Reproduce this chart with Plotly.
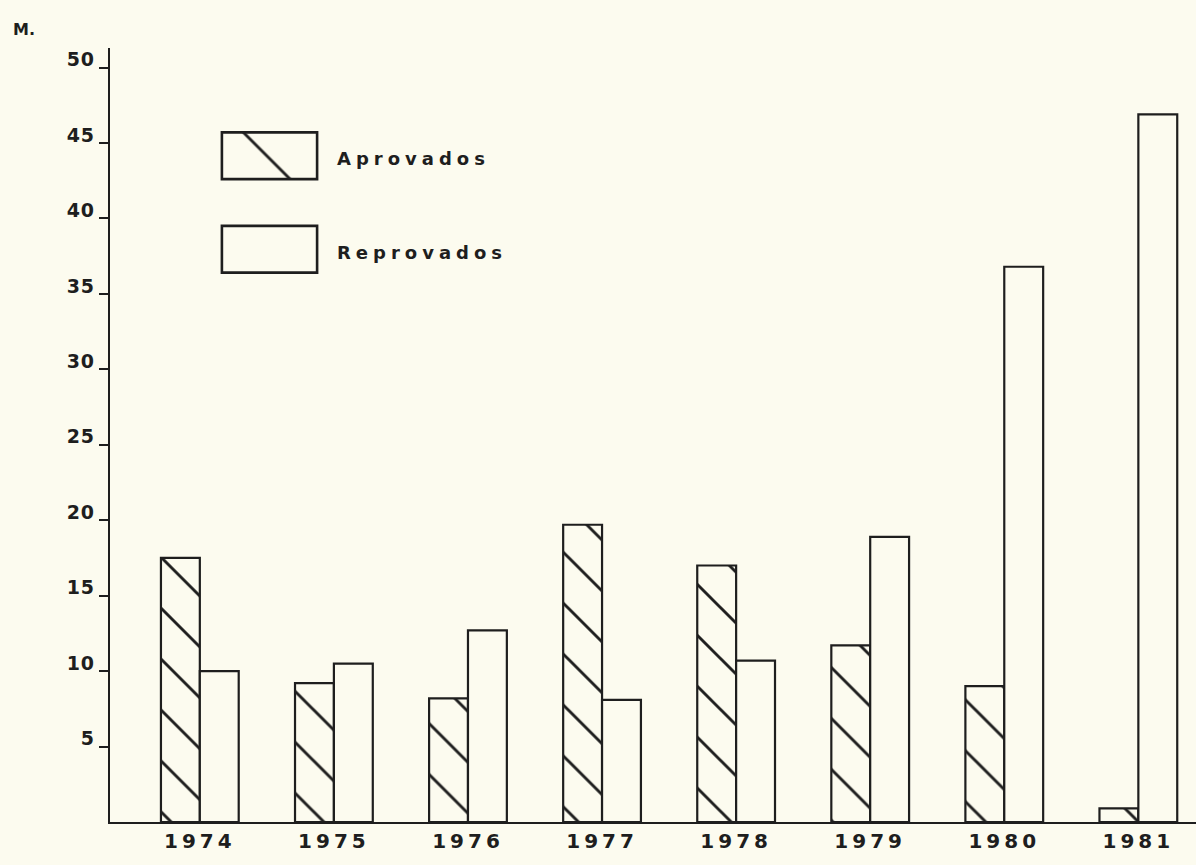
import plotly.graph_objects as go

years = ["1974", "1975", "1976", "1977", "1978", "1979", "1980", "1981"]
aprovados = [17.5, 9.2, 8.2, 19.7, 17.0, 11.7, 9.0, 0.9]
reprovados = [10.0, 10.5, 12.7, 8.1, 10.7, 18.9, 36.8, 46.9]
y_ticks = [5, 10, 15, 20, 25, 30, 35, 40, 45, 50]
legend_names = ["Aprovados", "Reprovados"]

BG = "#fcfbef"
INK = "#1e1e1e"
FONT = "DejaVu Sans"


def spaced(text, px, bold=True):
    inner = f"<b>{text}</b>" if bold else text
    return f'<span style="letter-spacing:{px}px">{inner}</span>'


fig = go.Figure()

fig.add_trace(go.Bar(
    x=years, y=aprovados, name=legend_names[0],
    marker=dict(color=BG, line=dict(color=INK, width=2.2),
                pattern=dict(shape="\\", fgcolor=INK, bgcolor=BG, fgopacity=1,
                             size=36, solidity=0.08)),
    showlegend=False,
))
fig.add_trace(go.Bar(
    x=years, y=reprovados, name=legend_names[1],
    marker=dict(color=BG, line=dict(color=INK, width=2.2)),
    showlegend=False,
))

# legend swatches drawn on a small inset axis
fig.add_trace(go.Bar(
    y=legend_names, x=[1, 1], orientation="h", width=0.5,
    xaxis="x2", yaxis="y2",
    marker=dict(color=BG, line=dict(color=INK, width=2.6),
                pattern=dict(shape=["\\", ""], fgcolor=INK, bgcolor=BG, fgopacity=1,
                             size=56, solidity=0.05)),
    showlegend=False, hoverinfo="skip",
))

# plot area pixels: x 110..1196, y 48..822
def px_x(p):
    return (p - 110) / 1086


def px_y(p):
    return (822 - p) / 774


for name, ypix in zip(legend_names, [158, 252]):
    fig.add_annotation(x=px_x(335), y=px_y(ypix), xref="paper", yref="paper",
                       text=spaced(name, 5), showarrow=False, xanchor="left", yanchor="middle",
                       font=dict(family=FONT, size=18, color=INK))

fig.add_annotation(x=px_x(11), y=px_y(30), xref="paper", yref="paper",
                   text="<b>M.</b>", showarrow=False, xanchor="left", yanchor="middle",
                   font=dict(family=FONT, size=16, color=INK))

fig.update_layout(
    width=1196, height=865,
    margin=dict(l=110, r=0, t=48, b=43),
    paper_bgcolor=BG, plot_bgcolor=BG,
    barmode="group", bargap=0.42, bargroupgap=0,
    font=dict(family=FONT, color=INK),
    xaxis=dict(
        type="category", range=[-0.67, 7.43],
        tickvals=years, ticktext=[spaced(y, 4) for y in years],
        showline=True, linecolor=INK, linewidth=2.2,
        ticks="", showgrid=False, zeroline=False,
        tickfont=dict(size=20, color=INK),
    ),
    yaxis=dict(
        range=[0, 51.3], tickvals=y_ticks, ticktext=[spaced(str(v), 1) for v in y_ticks],
        showline=True, linecolor=INK, linewidth=2.2,
        ticks="outside", ticklen=9, tickwidth=2, tickcolor=INK,
        showgrid=False, zeroline=False,
        tickfont=dict(size=19, color=INK),
        ticklabelshift=-8, ticklabelstandoff=0,
    ),
    xaxis2=dict(domain=[px_x(220), px_x(319)], range=[-0.02, 1.02], anchor="y2",
                visible=False, fixedrange=True),
    yaxis2=dict(domain=[px_y(296), px_y(109)], anchor="x2", visible=False,
                categoryorder="array", categoryarray=["Reprovados", "Aprovados"],
                fixedrange=True),
)

fig.write_html(
    "out.html",
    config={"displayModeBar": False},
    post_script=f"document.body.style.margin='0';document.body.style.background='{BG}';",
)
